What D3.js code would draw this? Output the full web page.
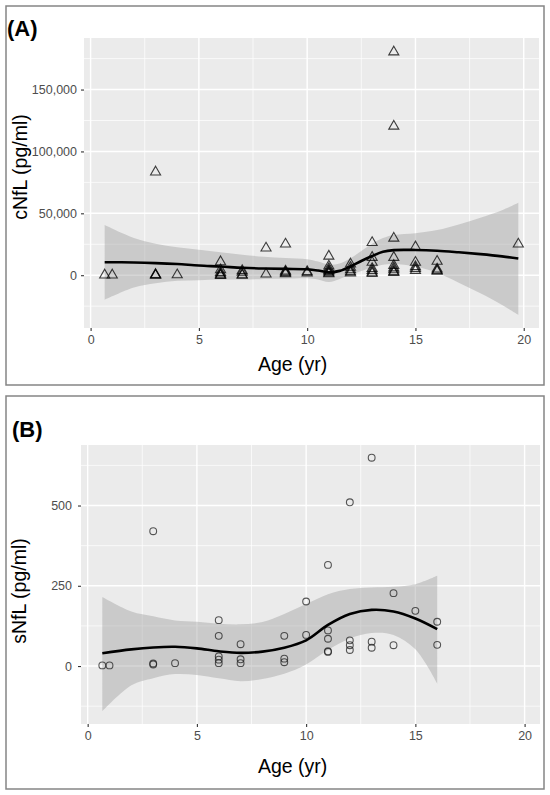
<!DOCTYPE html>
<html lang="en">
<head>
<meta charset="utf-8">
<title>cNfL and sNfL by age</title>
<script src="https://d3js.org/d3.v7.min.js"></script>
<style type="text/css">
  body { margin: 0; background: #fff; }
  text { font-family: "Liberation Sans", Arial, sans-serif; }
</style>
</head>
<body>
<script type="text/javascript">

// ---- panel A data: cNfL (pg/ml) by age ----
const cAge = [0.65, 1, 3, 3, 3, 3, 4,
  6, 6, 6, 6, 6, 6, 7, 7, 7, 7, 8.1, 8.1,
  9, 9, 9, 9, 9, 10, 10,
  11, 11, 11, 11, 11, 11, 11, 12, 12, 12, 12, 12,
  13, 13, 13, 13, 13, 13, 13,
  14, 14, 14, 14, 14, 14, 14, 14, 14,
  15, 15, 15, 15, 15, 16, 16, 16, 16, 19.75];
const cVal = [800, 800, 84000, 1200, 800, 500, 900,
  11500, 5000, 2800, 1500, 800, 400, 4300, 3000, 1000, 600, 22500, 1500,
  25800, 4000, 3200, 2500, 1800, 3500, 2500,
  16000, 8000, 6000, 4500, 3500, 2500, 1800, 9700, 7000, 5000, 3500, 2500,
  27000, 15000, 11000, 6000, 4500, 3000, 2000,
  181000, 121000, 30500, 15000, 8500, 6500, 5000, 3500, 2800,
  23500, 11000, 7500, 6000, 4500, 11800, 5600, 4500, 3800, 25800];

// loess fit and confidence band, panel A
const cFitAge = [0.65, 2, 3, 4, 5, 6, 7, 8, 9, 10, 10.5, 11, 11.5, 12, 12.5, 13, 13.5, 14, 15, 16, 17, 18, 19, 19.75];
const cFit = [10500, 10300, 9800, 9000, 7800, 7000, 6000, 5400, 5100, 4800, 3800, 2300, 3500, 7000, 11500, 15500, 19000, 20300, 20400, 19800, 18500, 17000, 15200, 13500];
const cUpper = [40500, 30000, 25500, 22500, 20500, 18500, 16500, 15000, 14000, 12900, 11000, 8500, 9500, 13700, 19500, 25500, 30000, 32500, 34000, 36500, 41000, 46500, 52500, 58500];
const cLower = [-19900, -10000, -6500, -4500, -4000, -3500, -3500, -3000, -2800, -2500, -3500, -5500, -3000, 300, 3500, 6000, 8500, 9000, 7000, 2000, -6000, -14500, -24000, -32000];

// ---- panel B data: sNfL (pg/ml) by age ----
const sAge = [0.67, 1, 3, 3, 3, 4,
  6, 6, 6, 6, 6, 7, 7, 7, 9, 9, 9, 10, 10,
  11, 11, 11, 11, 11, 12, 12, 12, 12, 13, 13, 13, 14, 14, 15, 16, 16];
const sVal = [2, 2, 420, 8, 5, 9,
  143, 94, 30, 20, 9, 68, 21, 9, 94, 23, 12, 201, 97,
  315, 111, 85, 46, 44, 510, 80, 65, 50, 649, 76, 57, 227, 65, 172, 138, 66];

const sFitAge = [0.67, 2, 3, 4, 5, 6, 7, 8, 9, 10, 11, 12, 13, 14, 15, 16];
const sFit = [40, 52, 58, 60, 55, 46, 41, 45, 57, 80, 128, 162, 175, 170, 148, 115];
const sUpper = [215, 170, 155, 142, 138, 132, 130, 137, 162, 193, 224, 240, 245, 247, 255, 281];
const sLower = [-141, -60, -38, -25, -28, -38, -47, -40, -24, 5, 50, 86, 103, 97, 52, -55];

// tick values
const xTicks = [0, 5, 10, 15, 20];
const xMinor = [2.5, 7.5, 12.5, 17.5];
const cTicks = [0, 50000, 100000, 150000];
const cMinor = [-25000, 25000, 75000, 125000, 175000];
const sTicks = [0, 250, 500];
const sMinor = [-125, 125, 375, 625];

const width = 550;
const height = 795;
const svg = d3.select("body")
              .append("svg")
              .attr("width", width)
              .attr("height", height);

// ggplot style 5% expansion of a data range
function expand(lo, hi) {
  const r = hi - lo;
  return [lo - 0.05 * r, hi + 0.05 * r];
}

function drawPanel(o) {
  // outer frame
  svg.append("rect")
     .attr("x", o.box[0]).attr("y", o.box[1])
     .attr("width", o.box[2]).attr("height", o.box[3])
     .attr("fill", "#fff")
     .attr("stroke", "#858585")
     .attr("stroke-width", 1.5);

  svg.append("text")
     .attr("x", o.labelPos[0]).attr("y", o.labelPos[1])
     .attr("font-size", "22px").attr("font-weight", "bold")
     .attr("fill", "#000")
     .text(o.label);

  const x = d3.scaleLinear().domain(o.xDom).range([o.left, o.right]);
  const y = d3.scaleLinear().domain(o.yDom).range([o.bottom, o.top]);

  const g = svg.append("g");
  g.append("rect")
   .attr("x", o.left).attr("y", o.top)
   .attr("width", o.right - o.left).attr("height", o.bottom - o.top)
   .attr("fill", "#ebebeb");

  // grid
  g.selectAll(".ymin").data(o.yMinor).join("line")
   .attr("x1", o.left).attr("x2", o.right)
   .attr("y1", d => y(d)).attr("y2", d => y(d))
   .attr("stroke", "#fff").attr("stroke-width", 0.7);
  g.selectAll(".xmin").data(xMinor).join("line")
   .attr("y1", o.top).attr("y2", o.bottom)
   .attr("x1", d => x(d)).attr("x2", d => x(d))
   .attr("stroke", "#fff").attr("stroke-width", 0.7);
  g.selectAll(".ymaj").data(o.yTicks).join("line")
   .attr("x1", o.left).attr("x2", o.right)
   .attr("y1", d => y(d)).attr("y2", d => y(d))
   .attr("stroke", "#fff").attr("stroke-width", 1.4);
  g.selectAll(".xmaj").data(xTicks).join("line")
   .attr("y1", o.top).attr("y2", o.bottom)
   .attr("x1", d => x(d)).attr("x2", d => x(d))
   .attr("stroke", "#fff").attr("stroke-width", 1.4);

  // confidence band + smooth line
  const band = d3.area()
                 .x((d, i) => x(o.fitAge[i]))
                 .y0((d, i) => y(o.lower[i]))
                 .y1((d, i) => y(o.upper[i]))
                 .curve(d3.curveCatmullRom);
  g.append("path")
   .attr("d", band(o.fit))
   .attr("fill", "#999").attr("fill-opacity", 0.4);

  // points
  const pts = o.ages.map((a, i) => [a, o.vals[i]]);
  if (o.shape === "triangle") {
    const tri = d3.symbol().type(d3.symbolTriangle).size(44);
    g.selectAll(".pt").data(pts).join("path")
     .attr("transform", d => `translate(${x(d[0])},${y(d[1]) + 0.8})`)
     .attr("d", tri)
     .attr("fill", "none")
     .attr("stroke", "#000").attr("stroke-opacity", 0.75)
     .attr("stroke-width", 1.1);
  } else {
    g.selectAll(".pt").data(pts).join("circle")
     .attr("cx", d => x(d[0])).attr("cy", d => y(d[1]))
     .attr("r", 3.4)
     .attr("fill", "none")
     .attr("stroke", "#222").attr("stroke-opacity", 0.75)
     .attr("stroke-width", 1.1);
  }

  const line = d3.line()
                 .x((d, i) => x(o.fitAge[i]))
                 .y(d => y(d))
                 .curve(d3.curveCatmullRom);
  g.append("path")
   .attr("d", line(o.fit))
   .attr("fill", "none")
   .attr("stroke", "#000").attr("stroke-width", 2.6);

  // axes
  const xAxis = svg.append("g")
     .attr("transform", `translate(0,${o.bottom})`)
     .call(d3.axisBottom(x).tickValues(xTicks).tickSize(3).tickPadding(4));
  const yAxis = svg.append("g")
     .attr("transform", `translate(${o.left},0)`)
     .call(d3.axisLeft(y).tickValues(o.yTicks).tickSize(3).tickPadding(o.yPad)
           .tickFormat(d3.format(",")));
  [xAxis, yAxis].forEach(a => {
    a.select(".domain").remove();
    a.selectAll(".tick line").attr("stroke", "#333").attr("stroke-width", 1.1);
    a.selectAll(".tick text")
     .attr("font-family", "Liberation Sans, Arial, sans-serif")
     .attr("font-size", "12.5px").attr("fill", "#4d4d4d");
  });

  svg.append("text")
     .attr("x", o.xTitle[0]).attr("y", o.xTitle[1])
     .attr("font-size", "19.5px").attr("fill", "#000")
     .text("Age (yr)");
  svg.append("text")
     .attr("transform", `translate(${o.yTitle[0]},${o.yTitle[1]}) rotate(-90)`)
     .attr("text-anchor", "middle")
     .attr("font-size", "19.5px").attr("fill", "#000")
     .text(o.yLabel);
}

const xDom = expand(0.65, 19.75);

drawPanel({
  box: [6, 6, 538, 379], label: "(A)", labelPos: [7, 36],
  left: 84, right: 539, top: 38, bottom: 328,
  xDom: xDom, yDom: expand(d3.min(cLower), d3.max(cVal)),
  yTicks: cTicks, yMinor: cMinor, yPad: 4,
  ages: cAge, vals: cVal, shape: "triangle",
  fitAge: cFitAge, fit: cFit, upper: cUpper, lower: cLower,
  xTitle: [258, 371], yTitle: [27, 167], yLabel: "cNfL (pg/ml)"
});

drawPanel({
  box: [6, 396, 538, 393], label: "(B)", labelPos: [12, 437],
  left: 81, right: 540, top: 445, bottom: 724,
  xDom: xDom, yDom: expand(d3.min(sLower), d3.max(sVal)),
  yTicks: sTicks, yMinor: sMinor, yPad: 6,
  ages: sAge, vals: sVal, shape: "circle",
  fitAge: sFitAge, fit: sFit, upper: sUpper, lower: sLower,
  xTitle: [258, 773], yTitle: [26, 591], yLabel: "sNfL (pg/ml)"
});

</script>
</body>
</html>
